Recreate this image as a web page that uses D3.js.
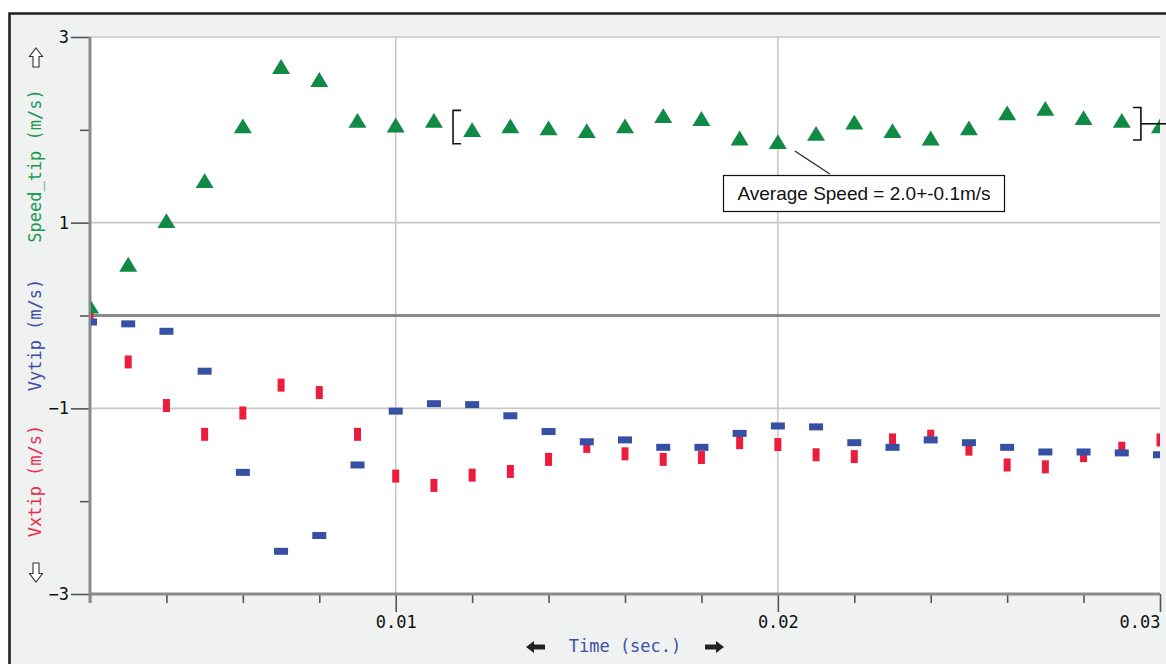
<!DOCTYPE html>
<html>
<head>
<meta charset="utf-8">
<script src="https://cdn.jsdelivr.net/npm/d3@7"></script>
<style>
  body { margin: 0; background: #fff; }
  svg { display: block; }
</style>
</head>
<body>
<div id="chart-area"></div>
<script>
// time stamps (s) of the measurements
var times = [0.002, 0.003, 0.004, 0.005, 0.006, 0.007, 0.008, 0.009, 0.010, 0.011,
             0.012, 0.013, 0.014, 0.015, 0.016, 0.017, 0.018, 0.019, 0.020, 0.021,
             0.022, 0.023, 0.024, 0.025, 0.026, 0.027, 0.028, 0.029, 0.030];

// Speed_tip (m/s)
var speedTip = [0.10, 0.55, 1.02, 1.45, 2.04, 2.68, 2.54, 2.10, 2.05, 2.10,
                2.00, 2.04, 2.02, 1.99, 2.04, 2.15, 2.12, 1.91, 1.87, 1.96,
                2.08, 1.99, 1.91, 2.02, 2.18, 2.23, 2.13, 2.10, 2.04];

// Vytip (m/s)
var vyTip = [-0.07, -0.09, -0.17, -0.60, -1.69, -2.54, -2.37, -1.61, -1.03, -0.95,
             -0.96, -1.08, -1.25, -1.36, -1.34, -1.42, -1.42, -1.27, -1.19, -1.20,
             -1.37, -1.42, -1.34, -1.37, -1.42, -1.47, -1.47, -1.48, -1.50];

// Vxtip (m/s)
var vxTip = [0.03, -0.50, -0.97, -1.28, -1.05, -0.75, -0.83, -1.28, -1.73, -1.83,
             -1.72, -1.68, -1.55, -1.41, -1.49, -1.55, -1.53, -1.37, -1.39, -1.50,
             -1.52, -1.34, -1.30, -1.44, -1.61, -1.63, -1.51, -1.43, -1.34];

var xMajorTicks = [0.01, 0.02, 0.03];
var xMinorTicks = [0.002, 0.004, 0.006, 0.008, 0.012, 0.014, 0.016, 0.018,
                   0.022, 0.024, 0.026, 0.028];
var yMajorTicks = [3, 1, -1, -3];
var yMinorTicks = [2, 0, -2];

// averaging window + label
var avgRange = [0.0115, 0.0295];
var avgLabel = "Average Speed = 2.0+-0.1m/s";

var width = 1166;
var height = 664;
var mono = "'DejaVu Sans Mono', monospace";

var green = "#118a45";
var blue = "#3651a3";
var red = "#ec1c3e";

var svg = d3.select("#chart-area")
    .append("svg")
    .attr("width", width)
    .attr("height", height);

// panel background + frame
svg.append("rect")
    .attr("x", 10).attr("y", 14)
    .attr("width", width - 10).attr("height", height - 14)
    .attr("fill", "#f0f1f1");

svg.append("path")
    .attr("d", "M9.5," + height + "V13.5H" + width)
    .attr("fill", "none")
    .attr("stroke", "#231f20")
    .attr("stroke-width", 2.6);

var x = d3.scaleLinear()
    .domain([0.002, 0.030])
    .range([90, 1160]);

var y = d3.scaleLinear()
    .domain([-3, 3])
    .range([594, 37]);

// plot area
svg.append("rect")
    .attr("x", x.range()[0]).attr("y", y(3))
    .attr("width", x.range()[1] - x.range()[0])
    .attr("height", y(-3) - y(3))
    .attr("fill", "#fff");

svg.append("clipPath").attr("id", "plot-clip")
    .append("rect")
    .attr("x", x.range()[0] + 1).attr("y", y(3))
    .attr("width", x.range()[1] - x.range()[0] - 1)
    .attr("height", y(-3) - y(3));

// grid
var grid = svg.append("g").attr("stroke", "#c8c8c8").attr("stroke-width", 1.6);
grid.selectAll(".hgrid")
    .data([3, 1, -1])
    .enter().append("line")
    .attr("x1", x.range()[0]).attr("x2", x.range()[1])
    .attr("y1", function(d) { return y(d); })
    .attr("y2", function(d) { return y(d); });
grid.selectAll(".vgrid")
    .data([0.01, 0.02])
    .enter().append("line")
    .attr("x1", function(d) { return x(d); })
    .attr("x2", function(d) { return x(d); })
    .attr("y1", y(3)).attr("y2", y(-3));

// y axis ticks
var yMajorGroup = svg.append("g")
    .attr("transform", "translate(" + x.range()[0] + ",0)")
    .call(d3.axisLeft(y).tickValues(yMajorTicks).tickSize(19).tickPadding(2)
        .tickFormat(d3.format("d")));
var yMinorGroup = svg.append("g")
    .attr("transform", "translate(" + x.range()[0] + ",0)")
    .call(d3.axisLeft(y).tickValues(yMinorTicks).tickSize(10).tickFormat(""));

// x axis ticks
var xMajorGroup = svg.append("g")
    .attr("transform", "translate(0," + y(-3) + ")")
    .call(d3.axisBottom(x).tickValues(xMajorTicks).tickSize(18).tickPadding(4)
        .tickFormat(d3.format(".2f")));
var xMinorGroup = svg.append("g")
    .attr("transform", "translate(0," + y(-3) + ")")
    .call(d3.axisBottom(x).tickValues(xMinorTicks).tickSize(9).tickFormat(""));

[yMajorGroup, yMinorGroup, xMajorGroup, xMinorGroup].forEach(function(g) {
    g.select(".domain").remove();
    g.selectAll("line").attr("stroke", "#555").attr("stroke-width", 1.6);
    g.selectAll("text")
        .attr("font-family", mono)
        .attr("font-size", "17px")
        .attr("fill", "#111");
});
xMajorGroup.selectAll("text")
    .filter(function(d) { return d === 0.03; })
    .attr("text-anchor", "end");

// main axis lines (left, zero, bottom)
var axisLines = svg.append("g").attr("stroke", "#8a8a8a").attr("stroke-width", 3);
axisLines.append("line")
    .attr("x1", x.range()[0]).attr("x2", x.range()[0])
    .attr("y1", y(3)).attr("y2", y(-3) + 9);
axisLines.append("line")
    .attr("x1", x.range()[0]).attr("x2", x.range()[1])
    .attr("y1", y(0)).attr("y2", y(0));
axisLines.append("line")
    .attr("x1", x.range()[0]).attr("x2", x.range()[1])
    .attr("y1", y(-3)).attr("y2", y(-3));

// data marks
var marks = svg.append("g").attr("clip-path", "url(#plot-clip)");

marks.selectAll(".vx")
    .data(times)
    .enter().append("rect")
    .attr("class", "vx")
    .attr("x", function(d) { return x(d) - 3.5; })
    .attr("y", function(d, i) { return y(vxTip[i]) - 6.5; })
    .attr("width", 7)
    .attr("height", 13)
    .attr("fill", red);

marks.selectAll(".vy")
    .data(times)
    .enter().append("rect")
    .attr("class", "vy")
    .attr("x", function(d) { return x(d) - 7; })
    .attr("y", function(d, i) { return y(vyTip[i]) - 3.5; })
    .attr("width", 14)
    .attr("height", 7)
    .attr("fill", blue);

marks.selectAll(".speed")
    .data(times)
    .enter().append("path")
    .attr("class", "speed")
    .attr("transform", function(d, i) {
        return "translate(" + x(d) + "," + y(speedTip[i]) + ")";
    })
    .attr("d", "M0,-7.6L9,7.2L-9,7.2Z")
    .attr("fill", green);

// averaging brackets
var bracket = svg.append("g")
    .attr("fill", "none")
    .attr("stroke", "#111")
    .attr("stroke-width", 1.6);
bracket.append("path")
    .attr("d", "M" + (x(avgRange[0]) + 8) + "," + y(2.21) +
               "H" + x(avgRange[0]) + "V" + y(1.85) + "H" + (x(avgRange[0]) + 8));
bracket.append("path")
    .attr("d", "M" + (x(avgRange[1]) - 8) + "," + y(2.24) +
               "H" + x(avgRange[1]) + "V" + y(1.89) + "H" + (x(avgRange[1]) - 8));
bracket.append("line")
    .attr("x1", x(avgRange[1])).attr("x2", width)
    .attr("y1", y(2.065)).attr("y2", y(2.065));

// callout
var px = x(0.020), py = y(1.87);
svg.append("line")
    .attr("x1", px + 17).attr("y1", py + 9)
    .attr("x2", px + 52).attr("y2", py + 32)
    .attr("stroke", "#222")
    .attr("stroke-width", 1.2);

var boxG = svg.append("g");
boxG.append("rect")
    .attr("x", 723.5).attr("y", 175.5)
    .attr("width", 281).attr("height", 36)
    .attr("fill", "#fff")
    .attr("stroke", "#111")
    .attr("stroke-width", 1.2);
boxG.append("text")
    .attr("x", 864).attr("y", 200)
    .attr("text-anchor", "middle")
    .attr("font-family", "'Liberation Sans', Arial, sans-serif")
    .attr("font-size", "19px")
    .attr("fill", "#111")
    .text(avgLabel);

// y axis titles
var yTitles = [
    { text: "Speed_tip (m/s)", color: "#1d9a50", cy: 166 },
    { text: "Vytip (m/s)", color: "#3d4fa3", cy: 335 },
    { text: "Vxtip (m/s)", color: "#ea2d4f", cy: 481 }
];
svg.selectAll(".ytitle")
    .data(yTitles)
    .enter().append("text")
    .attr("class", "ytitle")
    .attr("transform", function(d) { return "translate(41," + d.cy + ") rotate(-90)"; })
    .attr("text-anchor", "middle")
    .attr("font-family", mono)
    .attr("font-size", "17px")
    .attr("fill", function(d) { return d.color; })
    .text(function(d) { return d.text; });

// hollow up / down arrows
svg.append("path")
    .attr("transform", "translate(36,48)")
    .attr("d", "M0,0L6.5,8.5H3V19H-3V8.5H-6.5Z")
    .attr("fill", "#fff").attr("stroke", "#333").attr("stroke-width", 1.1);
svg.append("path")
    .attr("transform", "translate(36,582)")
    .attr("d", "M0,0L6.5,-8.5H3V-19H-3V-8.5H-6.5Z")
    .attr("fill", "#fff").attr("stroke", "#333").attr("stroke-width", 1.1);

// x axis title with arrows
svg.append("text")
    .attr("x", 625).attr("y", 652)
    .attr("text-anchor", "middle")
    .attr("font-family", mono)
    .attr("font-size", "17px")
    .attr("fill", "#4050a5")
    .text("Time (sec.)");
svg.append("path")
    .attr("transform", "translate(526,647)")
    .attr("d", "M0,0L8,-6V-2.5H19V2.5H8V6Z")
    .attr("fill", "#222");
svg.append("path")
    .attr("transform", "translate(724,647)")
    .attr("d", "M0,0L-8,-6V-2.5H-19V2.5H-8V6Z")
    .attr("fill", "#222");
</script>
</body>
</html>
